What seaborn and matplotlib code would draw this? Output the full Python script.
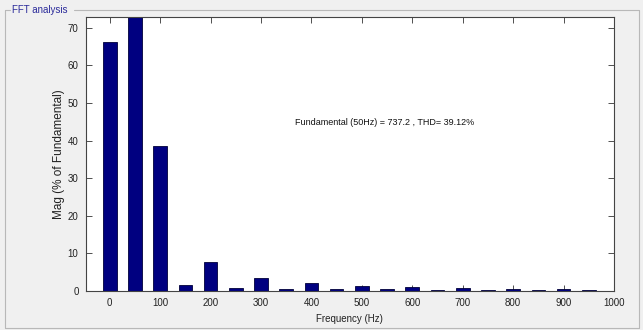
import matplotlib
matplotlib.use("Agg")
import matplotlib.pyplot as plt
import seaborn as sns
import pandas as pd
from matplotlib.lines import Line2D

# harmonic spectrum, % of fundamental
freqs = [0, 50, 100, 150, 200, 250, 300, 350, 400, 450, 500,
         550, 600, 650, 700, 750, 800, 850, 900, 950]
mags = [66.3, 100.0, 38.5, 1.5, 7.6, 0.8, 3.4, 0.6, 2.0, 0.5, 1.3,
        0.5, 1.1, 0.3, 0.8, 0.3, 0.5, 0.3, 0.5, 0.3]
xticks = [0, 100, 200, 300, 400, 500, 600, 700, 800, 900, 1000]
yticks = [0, 10, 20, 30, 40, 50, 60, 70]
note = "Fundamental (50Hz) = 737.2 , THD= 39.12%"

df = pd.DataFrame({"freq": freqs, "mag": mags})

sns.set_style("ticks")
plt.rcParams["font.family"] = ["Liberation Sans", "DejaVu Sans"]

fig = plt.figure(figsize=(6.43, 3.30), dpi=100)
fig.set_facecolor("#f0f0f0")
ax = fig.add_axes([85.5 / 643, 1 - 291 / 330, (614 - 85.5) / 643, (291 - 17) / 330])
ax.set_facecolor("white")

sns.barplot(data=df, x="freq", y="mag", native_scale=True, width=0.54,
            color="#000080", edgecolor="#00003a", linewidth=0.6,
            saturation=1, ax=ax)

ax.set_xlim(-48, 1000)
ax.set_ylim(0, 72.9)
ax.set_xticks(xticks)
ax.set_yticks(yticks)
ax.tick_params(direction="in", top=True, right=True, length=4, width=0.6,
               labelsize=7, colors="#333333", pad=5)
ax.tick_params(labelcolor="#222222")
for s in ax.spines.values():
    s.set_linewidth(0.8)
    s.set_color("#444444")

ax.set_xlabel("Frequency (Hz)", fontsize=7, color="#222222", labelpad=4)
ax.set_ylabel("Mag (% of Fundamental)", fontsize=8.5, color="#222222", labelpad=2)
ax.text(367, 44.7, note, fontsize=6.5, color="#111111", va="center", ha="left")

# group box frame
W, H = 643, 330
ly = 1 - 10 / H
fig.add_artist(Line2D([5 / W, 10 / W], [ly, ly], color="#b8b8b8", lw=0.8))
fig.add_artist(Line2D([74 / W, 639 / W], [ly, ly], color="#b8b8b8", lw=0.8))
fig.add_artist(Line2D([5 / W, 5 / W], [ly, 2 / H], color="#b8b8b8", lw=0.8))
fig.add_artist(Line2D([639 / W, 639 / W], [ly, 2 / H], color="#b8b8b8", lw=0.8))
fig.add_artist(Line2D([5 / W, 639 / W], [2 / H, 2 / H], color="#b8b8b8", lw=0.8))
fig.text(12 / W, ly, "FFT analysis", fontsize=7, color="#2a2a9a", va="center", ha="left")

fig.savefig("out.png", dpi=100, facecolor=fig.get_facecolor())
